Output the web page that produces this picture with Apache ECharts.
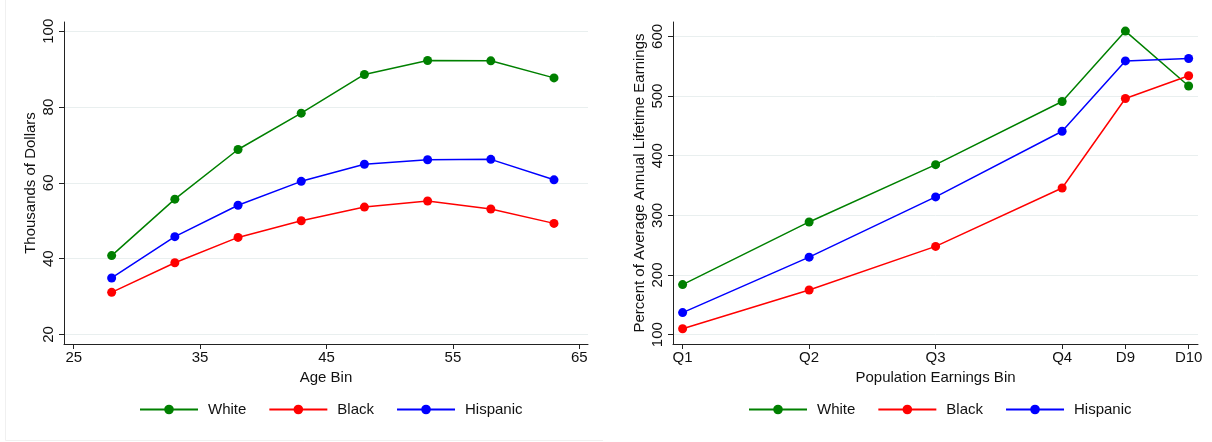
<!DOCTYPE html>
<html>
<head>
<meta charset="utf-8">
<script src="https://cdn.jsdelivr.net/npm/echarts@6/dist/echarts.min.js"></script>
<style>
  html, body { margin: 0; padding: 0; background: #ffffff; }
  #chart { width: 1212px; height: 442px; }
</style>
</head>
<body>
<div id="chart"></div>
<script>
// ---- Left panel data (Age Bin vs Thousands of Dollars)
const ageBins = [28, 33, 38, 43, 48, 53, 58, 63];
const ageWhite = [40.8, 55.7, 68.8, 78.4, 88.6, 92.3, 92.2, 87.7];
const ageBlack = [31.1, 38.9, 45.6, 50.0, 53.6, 55.2, 53.1, 49.3];
const ageHispanic = [34.9, 45.8, 54.1, 60.4, 64.9, 66.1, 66.2, 60.8];
const ageTicks = [25, 35, 45, 55, 65];
const dollarTicks = [20, 40, 60, 80, 100];

// ---- Right panel data (Population Earnings Bin vs Percent)
const earnBinPos = [1, 2, 3, 4, 4.5, 5];
const earnBinLabels = ['Q1', 'Q2', 'Q3', 'Q4', 'D9', 'D10'];
const earnWhite = [184, 289, 385, 491, 609, 517];
const earnBlack = [110, 175, 248, 346, 496, 534];
const earnHispanic = [137, 230, 331, 441, 559, 563];
const percentTicks = [100, 200, 300, 400, 500, 600];

const seriesNames = ['White', 'Black', 'Hispanic'];
const seriesColors = ['#008000', '#ff0000', '#0000ff'];

const FONT = 'Liberation Sans, Arial, sans-serif';
const TXT = '#111111';
const AXC = '#222222';
const GRID = '#e9efef';

function pairs(xs, ys) { return xs.map((x, i) => [x, ys[i]]); }

function mkX(gridIndex, min, max, ticks, name, fmt) {
  return {
    type: 'value', gridIndex, min, max, name,
    nameLocation: 'middle', nameGap: 24,
    nameTextStyle: { fontFamily: FONT, fontSize: 15, color: TXT },
    axisLine: { show: true, onZero: false, lineStyle: { color: AXC, width: 1 } },
    axisTick: { show: true, inside: false, length: 5, customValues: ticks, lineStyle: { color: AXC } },
    axisLabel: { customValues: ticks, margin: 6, fontFamily: FONT, fontSize: 15, color: TXT, formatter: fmt },
    splitLine: { show: false }
  };
}
function mkY(gridIndex, min, max, ticks, name) {
  return {
    type: 'value', gridIndex, min, max, name,
    nameLocation: 'middle', nameGap: 26, nameRotate: 90,
    nameTextStyle: { fontFamily: FONT, fontSize: 15, color: TXT },
    axisLine: { show: true, onZero: false, lineStyle: { color: AXC, width: 1 } },
    axisTick: { show: true, inside: false, length: 5, customValues: ticks, lineStyle: { color: AXC } },
    axisLabel: { customValues: ticks, rotate: 90, margin: 8, fontFamily: FONT, fontSize: 15, color: TXT },
    splitLine: { show: true, lineStyle: { color: GRID, width: 1 } }
  };
}

const leftSets = [ageWhite, ageBlack, ageHispanic];
const rightSets = [earnWhite, earnBlack, earnHispanic];
const series = [];
seriesNames.forEach((n, i) => {
  series.push({
    name: n, type: 'line', xAxisIndex: 0, yAxisIndex: 0,
    data: pairs(ageBins, leftSets[i]),
    symbol: 'circle', symbolSize: 9, showSymbol: true,
    itemStyle: { color: seriesColors[i] },
    lineStyle: { color: seriesColors[i], width: 1.5 },
    emphasis: { disabled: true }, animation: false
  });
});
seriesNames.forEach((n, i) => {
  series.push({
    name: n, type: 'line', xAxisIndex: 1, yAxisIndex: 1,
    data: pairs(earnBinPos, rightSets[i]),
    symbol: 'circle', symbolSize: 9, showSymbol: true,
    itemStyle: { color: seriesColors[i] },
    lineStyle: { color: seriesColors[i], width: 1.5 },
    emphasis: { disabled: true }, animation: false
  });
});

function mkLegend(left) {
  return {
    data: seriesNames, left, top: 397, orient: 'horizontal',
    itemWidth: 58, itemHeight: 12, itemGap: 22,
    selectedMode: false,
    textStyle: { fontFamily: FONT, fontSize: 15, color: TXT, padding: [0, 0, 0, 5] }
  };
}

const chart = echarts.init(document.getElementById('chart'), null, { renderer: 'canvas' });
chart.setOption({
  backgroundColor: '#ffffff',
  animation: false,
  grid: [
    { left: 64, right: 624, top: 22, bottom: 98, containLabel: false },
    { left: 673, right: 14, top: 22, bottom: 98, containLabel: false }
  ],
  xAxis: [
    mkX(0, 24.23, 65.69, ageTicks, 'Age Bin', v => String(v)),
    mkX(1, 0.924, 5.074, earnBinPos, 'Population Earnings Bin', v => {
      const k = earnBinPos.indexOf(v); return k >= 0 ? earnBinLabels[k] : '';
    })
  ],
  yAxis: [
    mkY(0, 17.47, 102.45, dollarTicks, 'Thousands of Dollars'),
    mkY(1, 84.4, 624.2, percentTicks, 'Percent of Average Annual Lifetime Earnings')
  ],
  legend: [mkLegend(134), mkLegend(743)],
  graphic: [
    { type: 'line', shape: { x1: 5.5, y1: 0, x2: 5.5, y2: 440.5 }, style: { stroke: '#f0f0f0', lineWidth: 1 }, silent: true },
    { type: 'line', shape: { x1: 5.5, y1: 440.5, x2: 603, y2: 440.5 }, style: { stroke: '#f0f0f0', lineWidth: 1 }, silent: true }
  ],
  series
});
</script>
</body>
</html>
